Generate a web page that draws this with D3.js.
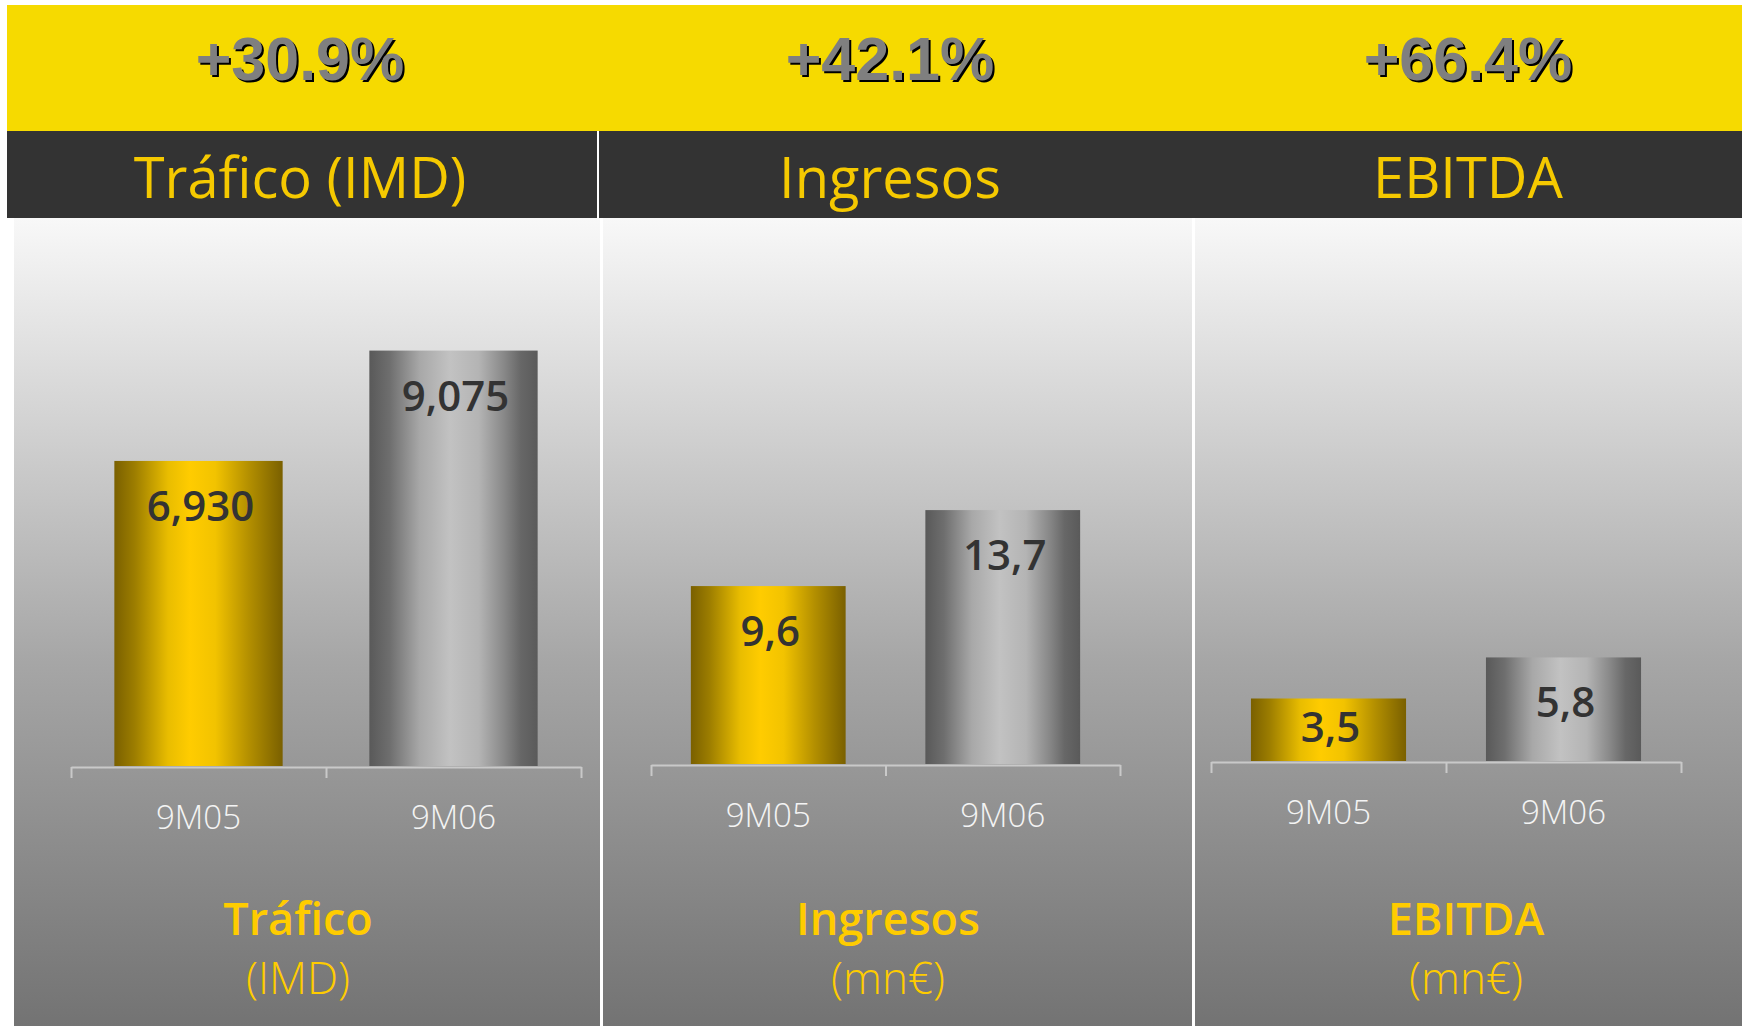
<!DOCTYPE html>
<html>
<head>
<meta charset="utf-8">
<script src="https://cdn.jsdelivr.net/npm/d3@7"></script>
<style>
body { margin: 0; background: #fff; }
</style>
</head>
<body>
<div id="chart"></div>
<script>
// data
var categories = ['9M05', '9M06'];
var trafico = [6930, 9075];
var ingresos = [9.6, 13.7];
var ebitda = [3.5, 5.8];
var growthLabels = ['+30.9%', '+42.1%', '+66.4%'];
var headerTitles = ['Tráfico (IMD)', 'Ingresos', 'EBITDA'];
var footerTitles = ['Tráfico', 'Ingresos', 'EBITDA'];
var footerUnits = ['(IMD)', '(mn€)', '(mn€)'];

var width = 1742;
var height = 1026;

var esFormat = d3.formatLocale({decimal: ',', thousands: '.', grouping: [3], currency: ['', '€']}).format('.1f');

// layout of the three panels
var panels = [
    {x0: 14, x1: 600, cx: 300, plot: [71, 581], base: 766, yDom: [1000, 10000], yTop: 303, values: trafico, fmt: d3.format(',')},
    {x0: 603, x1: 1192, cx: 890, plot: [651, 1120], base: 764, yDom: [0, 15], yTop: 486, values: ingresos, fmt: esFormat},
    {x0: 1195, x1: 1742, cx: 1468, plot: [1211, 1681], base: 761, yDom: [0, 7], yTop: 636, values: ebitda, fmt: esFormat}
];

var svg = d3.select('#chart')
    .append('svg')
    .attr('width', width)
    .attr('height', height)
    .style('display', 'block');

var defs = svg.append('defs');

var bg = defs.append('linearGradient')
    .attr('id', 'bg')
    .attr('gradientUnits', 'userSpaceOnUse')
    .attr('x1', 0).attr('x2', 0)
    .attr('y1', 218).attr('y2', height);
bg.append('stop').attr('offset', 0).attr('stop-color', '#f8f8f8');
bg.append('stop').attr('offset', 0.55).attr('stop-color', '#a6a6a6');
bg.append('stop').attr('offset', 1).attr('stop-color', '#737373');

var gold = defs.append('linearGradient').attr('id', 'gold');
[[0, '#7a6000'], [0.12, '#9c7d00'], [0.32, '#e9bd00'], [0.45, '#ffcc00'], [0.6, '#f2c300'], [0.8, '#b38f00'], [1, '#7a6000']]
    .forEach(s => gold.append('stop').attr('offset', s[0]).attr('stop-color', s[1]));

var silver = defs.append('linearGradient').attr('id', 'silver');
[[0, '#595959'], [0.12, '#6e6e6e'], [0.3, '#a8a8a8'], [0.48, '#c2c2c2'], [0.65, '#b4b4b4'], [0.8, '#888888'], [0.9, '#676767'], [1, '#5a5a5a']]
    .forEach(s => silver.append('stop').attr('offset', s[0]).attr('stop-color', s[1]));

// top bands
svg.append('rect').attr('x', 7).attr('y', 5).attr('width', width - 7).attr('height', 126).attr('fill', '#f6da00');
svg.append('rect').attr('x', 7).attr('y', 131).attr('width', width - 7).attr('height', 87).attr('fill', '#333333');
svg.append('line').attr('x1', 598).attr('x2', 598).attr('y1', 131).attr('y2', 218)
    .attr('stroke', '#ffffff').attr('stroke-width', 2);

panels.forEach((p, i) => {

    svg.append('rect')
        .attr('x', p.x0).attr('y', 218)
        .attr('width', p.x1 - p.x0).attr('height', height - 218)
        .attr('fill', 'url(#bg)');

    // growth figure with shadow
    var pct = svg.append('g').attr('transform', `translate(${p.cx},80)`)
        .style('font-family', '"Liberation Sans", Arial, sans-serif')
        .style('font-size', '61px')
        .style('font-weight', 'bold')
        .attr('text-anchor', 'middle');
    pct.append('text').attr('x', 2).attr('y', 2).attr('fill', '#000').text(growthLabels[i]);
    pct.append('text').attr('fill', '#7f7f7f').text(growthLabels[i]);

    svg.append('text')
        .attr('x', p.cx).attr('y', 198)
        .attr('text-anchor', 'middle')
        .style('font-family', '"Open Sans", sans-serif')
        .style('font-size', '56px')
        .attr('fill', '#f5c900')
        .text(headerTitles[i]);

    var x = d3.scaleBand().domain(categories).range(p.plot).paddingInner(0.34).paddingOuter(0.17);
    var y = d3.scaleLinear().domain(p.yDom).range([p.base, p.yTop]);

    var chart = svg.append('g');

    chart.selectAll('rect.bar')
        .data(p.values)
        .enter()
        .append('rect')
        .attr('class', 'bar')
        .attr('x', (d, j) => x(categories[j]))
        .attr('width', x.bandwidth())
        .attr('y', d => y(d))
        .attr('height', d => p.base - y(d))
        .attr('fill', (d, j) => j === 0 ? 'url(#gold)' : 'url(#silver)');

    chart.selectAll('text.val')
        .data(p.values)
        .enter()
        .append('text')
        .attr('class', 'val')
        .attr('x', (d, j) => x(categories[j]) + x.bandwidth() / 2 + 2)
        .attr('y', d => y(d) + Math.min(60, 0.7 * (p.base - y(d))))
        .attr('text-anchor', 'middle')
        .style('font-family', '"Open Sans", sans-serif')
        .style('font-size', '42px')
        .style('font-weight', 600)
        .attr('fill', '#333333')
        .text(d => p.fmt(d));

    // axis line with ticks between categories
    var tickScale = d3.scaleLinear().domain([0, categories.length]).range(p.plot);
    var tickAxis = chart.append('g')
        .attr('transform', `translate(0,${p.base + 1})`)
        .call(d3.axisBottom(tickScale).ticks(categories.length).tickSize(11).tickSizeOuter(0).tickFormat(''));
    tickAxis.selectAll('path, line').attr('stroke', '#c9c9c9').attr('stroke-width', 2);

    var catAxis = chart.append('g')
        .attr('transform', `translate(0,${p.base + 1})`)
        .call(d3.axisBottom(x).tickSize(0));
    catAxis.select('.domain').remove();
    catAxis.selectAll('text')
        .attr('y', 62)
        .attr('dy', null)
        .attr('fill', '#f4f4f4')
        .style('font-family', '"Open Sans", sans-serif')
        .style('font-size', '33px')
        .style('font-weight', 300);

    svg.append('text')
        .attr('x', p.cx - 2).attr('y', 935)
        .attr('text-anchor', 'middle')
        .style('font-family', '"Open Sans", sans-serif')
        .style('font-size', '45px')
        .style('font-weight', 600)
        .attr('fill', '#ffcc00')
        .text(footerTitles[i]);

    svg.append('text')
        .attr('x', p.cx - 2).attr('y', 994)
        .attr('text-anchor', 'middle')
        .style('font-family', '"Open Sans", sans-serif')
        .style('font-size', '44px')
        .style('font-weight', 300)
        .attr('fill', '#ffcc00')
        .text(footerUnits[i]);
});
</script>
</body>
</html>
